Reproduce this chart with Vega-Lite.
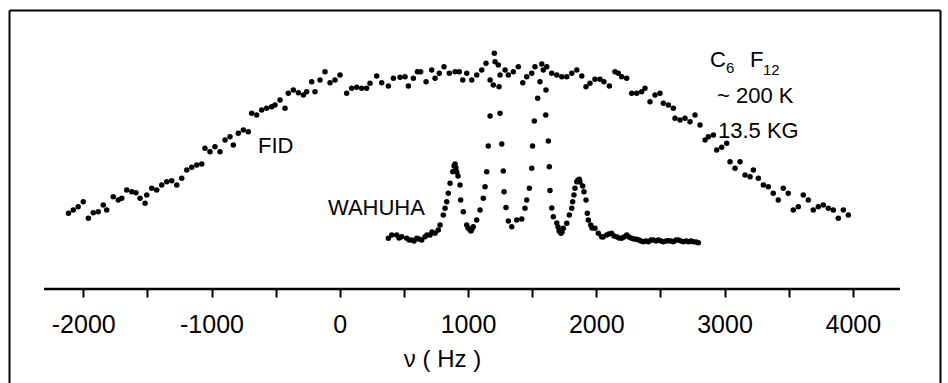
{
  "$schema": "https://vega.github.io/schema/vega-lite/v6.json",
  "width": 931,
  "height": 373,
  "autosize": {"type": "none"},
  "padding": {"left": 9, "top": 10, "right": 8, "bottom": 0},
  "background": "white",
  "config": {
    "view": {"stroke": null},
    "axis": {"grid": false, "domainColor": "#000", "tickColor": "#000", "labelColor": "#000", "titleColor": "#000", "labelFont": "Liberation Sans", "titleFont": "Liberation Sans"}
  },
  "datasets": {
    "fid": [
      {"freq":-2115,"amp":75.7},{"freq":-2078,"amp":79},{"freq":-2040,"amp":82.3},{"freq":-2000,"amp":87.3},{"freq":-1960,"amp":70.7},{"freq":-1922,"amp":76.3},{"freq":-1883,"amp":77.3},{"freq":-1844,"amp":84},{"freq":-1817,"amp":79},{"freq":-1766,"amp":92.3},{"freq":-1727,"amp":89},{"freq":-1700,"amp":90.7},{"freq":-1661,"amp":99},{"freq":-1622,"amp":97.3},{"freq":-1589,"amp":96.3},{"freq":-1557,"amp":90.7},{"freq":-1518,"amp":85.7},{"freq":-1505,"amp":94},{"freq":-1466,"amp":100.7},{"freq":-1427,"amp":99},{"freq":-1388,"amp":104},{"freq":-1349,"amp":107.3},{"freq":-1310,"amp":108.3},{"freq":-1271,"amp":104},{"freq":-1232,"amp":110.7},{"freq":-1193,"amp":119},{"freq":-1154,"amp":121.7},{"freq":-1115,"amp":124},{"freq":-1076,"amp":125},{"freq":-1051,"amp":140.7},{"freq":-1012,"amp":137.3},{"freq":-973,"amp":142.3},{"freq":-934,"amp":137.3},{"freq":-895,"amp":149},{"freq":-856,"amp":152.3},{"freq":-830,"amp":144},{"freq":-791,"amp":155.7},{"freq":-752,"amp":159},{"freq":-713,"amp":157.3},{"freq":-687,"amp":175.7},{"freq":-648,"amp":174},{"freq":-609,"amp":179},{"freq":-570,"amp":180.7},{"freq":-531,"amp":182.3},{"freq":-505,"amp":184},{"freq":-466,"amp":189},{"freq":-427,"amp":180.7},{"freq":-401,"amp":195.7},{"freq":-362,"amp":199},{"freq":-323,"amp":196.3},{"freq":-284,"amp":194},{"freq":-258,"amp":197.3},{"freq":-219,"amp":207.3},{"freq":-193,"amp":197.3},{"freq":-154,"amp":209},{"freq":-115,"amp":217.3},{"freq":-76,"amp":206.3},{"freq":-37,"amp":209},{"freq":2,"amp":214},{"freq":54,"amp":195.7},{"freq":93,"amp":200.7},{"freq":132,"amp":201.7},{"freq":171,"amp":200.7},{"freq":210,"amp":200.7},{"freq":236,"amp":205.7},{"freq":288,"amp":213},{"freq":327,"amp":206.3},{"freq":379,"amp":203},{"freq":418,"amp":210.7},{"freq":470,"amp":211.7},{"freq":509,"amp":212.3},{"freq":535,"amp":203},{"freq":574,"amp":210.7},{"freq":605,"amp":217.3},{"freq":631,"amp":217.3},{"freq":673,"amp":207.3},{"freq":717,"amp":219},{"freq":743,"amp":210.7},{"freq":776,"amp":215.7},{"freq":813,"amp":222.3},{"freq":854,"amp":215.7},{"freq":899,"amp":217.3},{"freq":932,"amp":217.3},{"freq":959,"amp":209},{"freq":990,"amp":215.7},{"freq":1029,"amp":209},{"freq":1068,"amp":214},{"freq":1107,"amp":219},{"freq":1140,"amp":225.7},{"freq":1172,"amp":209},{"freq":1197,"amp":204},{"freq":1205,"amp":235.7},{"freq":1211,"amp":227.3},{"freq":1236,"amp":224},{"freq":1242,"amp":202.3},{"freq":1250,"amp":214},{"freq":1289,"amp":219},{"freq":1314,"amp":214},{"freq":1353,"amp":217.3},{"freq":1392,"amp":222.3},{"freq":1427,"amp":206.3},{"freq":1458,"amp":212.3},{"freq":1497,"amp":215.7},{"freq":1522,"amp":222.3},{"freq":1575,"amp":225},{"freq":1587,"amp":219},{"freq":1614,"amp":222.3},{"freq":1653,"amp":215.7},{"freq":1692,"amp":214},{"freq":1731,"amp":212.3},{"freq":1770,"amp":212.3},{"freq":1809,"amp":215.7},{"freq":1848,"amp":219},{"freq":1887,"amp":213},{"freq":1920,"amp":202.3},{"freq":1951,"amp":205.7},{"freq":1990,"amp":209.7},{"freq":2029,"amp":209.7},{"freq":2060,"amp":207.3},{"freq":2102,"amp":203},{"freq":2146,"amp":217.3},{"freq":2172,"amp":215.7},{"freq":2198,"amp":212.3},{"freq":2237,"amp":210.7},{"freq":2276,"amp":195.7},{"freq":2315,"amp":195.7},{"freq":2354,"amp":197.3},{"freq":2380,"amp":200.7},{"freq":2419,"amp":187.3},{"freq":2458,"amp":194},{"freq":2497,"amp":195.7},{"freq":2523,"amp":185.7},{"freq":2562,"amp":184},{"freq":2601,"amp":180.7},{"freq":2614,"amp":170.7},{"freq":2653,"amp":169},{"freq":2692,"amp":170.7},{"freq":2731,"amp":167.3},{"freq":2770,"amp":174},{"freq":2809,"amp":164},{"freq":2848,"amp":149},{"freq":2874,"amp":152.3},{"freq":2913,"amp":154},{"freq":2939,"amp":139},{"freq":2978,"amp":141.7},{"freq":3017,"amp":145.7},{"freq":3043,"amp":127.3},{"freq":3082,"amp":120.7},{"freq":3121,"amp":127.3},{"freq":3160,"amp":114},{"freq":3199,"amp":112.3},{"freq":3225,"amp":119},{"freq":3264,"amp":110.7},{"freq":3303,"amp":104},{"freq":3341,"amp":102.3},{"freq":3380,"amp":95.7},{"freq":3419,"amp":89},{"freq":3458,"amp":100.7},{"freq":3497,"amp":95.7},{"freq":3536,"amp":79},{"freq":3575,"amp":82.3},{"freq":3614,"amp":94},{"freq":3653,"amp":89},{"freq":3692,"amp":79},{"freq":3731,"amp":82.3},{"freq":3770,"amp":84},{"freq":3809,"amp":80.7},{"freq":3848,"amp":79},{"freq":3887,"amp":70.7},{"freq":3926,"amp":79},{"freq":3965,"amp":74}
    ],
    "wahuha": [
      {"freq":379,"amp":50.7},{"freq":405,"amp":54},{"freq":444,"amp":54},{"freq":462,"amp":51},{"freq":483,"amp":52.3},{"freq":522,"amp":50.7},{"freq":540,"amp":49},{"freq":561,"amp":49},{"freq":579,"amp":48},{"freq":600,"amp":50.7},{"freq":618,"amp":50},{"freq":639,"amp":49},{"freq":665,"amp":52.3},{"freq":680,"amp":54},{"freq":704,"amp":54},{"freq":719,"amp":57},{"freq":743,"amp":55.7},{"freq":768,"amp":59},{"freq":782,"amp":64},{"freq":807,"amp":74},{"freq":821,"amp":80.7},{"freq":834,"amp":87.3},{"freq":846,"amp":95.7},{"freq":860,"amp":105.7},{"freq":881,"amp":117.3},{"freq":891,"amp":123},{"freq":899,"amp":125},{"freq":906,"amp":121},{"freq":912,"amp":117},{"freq":922,"amp":113},{"freq":938,"amp":104},{"freq":943,"amp":89},{"freq":963,"amp":77.3},{"freq":990,"amp":64},{"freq":1000,"amp":61},{"freq":1016,"amp":59},{"freq":1023,"amp":58},{"freq":1031,"amp":60},{"freq":1041,"amp":62.3},{"freq":1068,"amp":69},{"freq":1094,"amp":79},{"freq":1119,"amp":90.7},{"freq":1133,"amp":102.3},{"freq":1146,"amp":117.3},{"freq":1158,"amp":143},{"freq":1172,"amp":173},{"freq":1250,"amp":175.7},{"freq":1263,"amp":145},{"freq":1275,"amp":118},{"freq":1281,"amp":97.3},{"freq":1296,"amp":81.5},{"freq":1314,"amp":68},{"freq":1341,"amp":62.3},{"freq":1380,"amp":69},{"freq":1419,"amp":70},{"freq":1444,"amp":80.7},{"freq":1458,"amp":89},{"freq":1478,"amp":100.7},{"freq":1497,"amp":120.7},{"freq":1503,"amp":143},{"freq":1517,"amp":168},{"freq":1543,"amp":190.7},{"freq":1561,"amp":207.3},{"freq":1608,"amp":199},{"freq":1606,"amp":174},{"freq":1626,"amp":148},{"freq":1634,"amp":122.3},{"freq":1639,"amp":98.5},{"freq":1653,"amp":81},{"freq":1665,"amp":72.3},{"freq":1692,"amp":66},{"freq":1702,"amp":62},{"freq":1710,"amp":58},{"freq":1717,"amp":59},{"freq":1725,"amp":55.7},{"freq":1733,"amp":57},{"freq":1743,"amp":60.7},{"freq":1770,"amp":65.7},{"freq":1790,"amp":74},{"freq":1809,"amp":80.7},{"freq":1816,"amp":87.3},{"freq":1826,"amp":94},{"freq":1834,"amp":100.7},{"freq":1848,"amp":107.3},{"freq":1858,"amp":109},{"freq":1868,"amp":109.7},{"freq":1873,"amp":107},{"freq":1894,"amp":103},{"freq":1904,"amp":97.3},{"freq":1920,"amp":89},{"freq":1930,"amp":75.7},{"freq":1938,"amp":69},{"freq":1957,"amp":64},{"freq":1967,"amp":61},{"freq":1990,"amp":60.7},{"freq":2016,"amp":55.7},{"freq":2042,"amp":52.3},{"freq":2053,"amp":52},{"freq":2081,"amp":54},{"freq":2099,"amp":55},{"freq":2120,"amp":55.7},{"freq":2138,"amp":53},{"freq":2159,"amp":52.3},{"freq":2177,"amp":51},{"freq":2198,"amp":50.7},{"freq":2216,"amp":52},{"freq":2237,"amp":54},{"freq":2255,"amp":52},{"freq":2276,"amp":50.7},{"freq":2294,"amp":50},{"freq":2315,"amp":49.7},{"freq":2333,"amp":49},{"freq":2349,"amp":48},{"freq":2367,"amp":47.3},{"freq":2388,"amp":48},{"freq":2406,"amp":47.3},{"freq":2427,"amp":49},{"freq":2445,"amp":49},{"freq":2466,"amp":48},{"freq":2484,"amp":49},{"freq":2505,"amp":48},{"freq":2523,"amp":47.3},{"freq":2544,"amp":48},{"freq":2562,"amp":48.3},{"freq":2583,"amp":48},{"freq":2601,"amp":47.3},{"freq":2622,"amp":49},{"freq":2640,"amp":49},{"freq":2661,"amp":48},{"freq":2679,"amp":47.3},{"freq":2700,"amp":48},{"freq":2718,"amp":47.3},{"freq":2739,"amp":48},{"freq":2757,"amp":47.3},{"freq":2778,"amp":47},{"freq":2796,"amp":46.3}
    ],
    "axisline": [{"freq": -2306, "freq2": 4368, "amp": 0}],
    "notes": [
      {"freq": -637, "amp": 136, "label": "FID"},
      {"freq": -92, "amp": 74, "label": "WAHUHA"},
      {"freq": 2887, "amp": 222, "label": "C"},
      {"freq": 3199, "amp": 222, "label": "F"},
      {"freq": 2941, "amp": 186, "label": "~ 200 K"},
      {"freq": 2949, "amp": 151, "label": "13.5 KG"}
    ],
    "subs": [
      {"freq": 3012, "amp": 216, "label": "6"},
      {"freq": 3300, "amp": 214, "label": "12"}
    ]
  },
  "resolve": {"axis": {"x": "independent", "y": "independent"}},
  "layer": [
    {
      "data": {"name": "fid"},
      "mark": {"type": "circle", "size": 30, "color": "#000", "opacity": 1},
      "encoding": {
        "x": {"field": "freq", "type": "quantitative", "scale": {"domain": [-2579, 4680], "nice": false, "zero": false},
          "axis": {"orient": "bottom", "offset": -94, "domain": false, "values": [-2000,-1500,-1000,-500,0,500,1000,1500,2000,2500,3000,3500,4000],
            "ticks": true, "tickSize": 8, "tickWidth": 2, "labelExpr": "datum.value % 1000 === 0 ? '' + datum.value : ''",
            "labelFontSize": 25, "labelPadding": 15, "labelOverlap": false, "labelFlush": false,
            "title": "ν ( Hz )", "titleFontSize": 24, "titleFontWeight": "normal", "titleX": 433, "titleY": 77, "titleAlign": "center", "titleBaseline": "alphabetic"}},
        "y": {"field": "amp", "type": "quantitative", "scale": {"domain": [-94, 279], "nice": false, "zero": false},
          "axis": {"orient": "left", "domain": true, "domainWidth": 2, "ticks": false, "labels": false, "title": null}}
      }
    },
    {
      "data": {"name": "wahuha"},
      "mark": {"type": "circle", "size": 30, "color": "#000", "opacity": 1},
      "encoding": {
        "x": {"field": "freq", "type": "quantitative", "scale": {"domain": [-2579, 4680], "nice": false, "zero": false},
          "axis": {"orient": "top", "domain": true, "domainWidth": 2, "ticks": false, "labels": false, "title": null}},
        "y": {"field": "amp", "type": "quantitative", "scale": {"domain": [-94, 279], "nice": false, "zero": false},
          "axis": {"orient": "right", "domain": true, "domainWidth": 2, "ticks": false, "labels": false, "title": null}}
      }
    },
    {
      "data": {"name": "axisline"},
      "mark": {"type": "rule", "color": "#000", "strokeWidth": 2.5},
      "encoding": {
        "x": {"field": "freq", "type": "quantitative", "scale": {"domain": [-2579, 4680], "nice": false, "zero": false}, "axis": null},
        "x2": {"field": "freq2"},
        "y": {"field": "amp", "type": "quantitative", "scale": {"domain": [-94, 279], "nice": false, "zero": false}, "axis": null}
      }
    },
    {
      "data": {"name": "notes"},
      "mark": {"type": "text", "align": "left", "baseline": "alphabetic", "fontSize": 22, "font": "Liberation Sans", "color": "#000"},
      "encoding": {
        "x": {"field": "freq", "type": "quantitative", "scale": {"domain": [-2579, 4680], "nice": false, "zero": false}, "axis": null},
        "y": {"field": "amp", "type": "quantitative", "scale": {"domain": [-94, 279], "nice": false, "zero": false}, "axis": null},
        "text": {"field": "label"}
      }
    },
    {
      "data": {"name": "subs"},
      "mark": {"type": "text", "align": "left", "baseline": "alphabetic", "fontSize": 15, "font": "Liberation Sans", "color": "#000"},
      "encoding": {
        "x": {"field": "freq", "type": "quantitative", "scale": {"domain": [-2579, 4680], "nice": false, "zero": false}, "axis": null},
        "y": {"field": "amp", "type": "quantitative", "scale": {"domain": [-94, 279], "nice": false, "zero": false}, "axis": null},
        "text": {"field": "label"}
      }
    }
  ]
}
